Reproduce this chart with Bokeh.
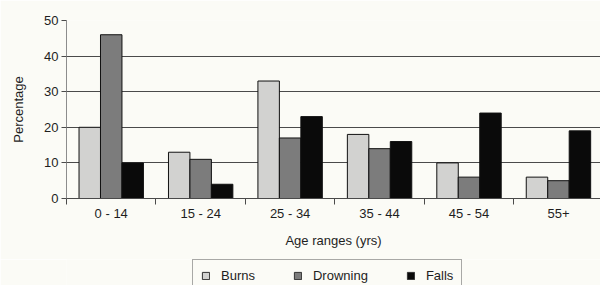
from bokeh.plotting import figure
from bokeh.layouts import column
from bokeh.models import ColumnDataSource, FixedTicker, Legend, LegendItem, Range1d
from bokeh.transform import dodge
from bokeh.embed import file_html
from bokeh.resources import INLINE

categories = ["0 - 14", "15 - 24", "25 - 34", "35 - 44", "45 - 54", "55+"]
burns = [20, 13, 33, 18, 10, 6]
drowning = [46, 11, 17, 14, 6, 5]
falls = [10, 4, 23, 16, 24, 19]
y_ticks = [0, 10, 20, 30, 40, 50]
series = ["Burns", "Drowning", "Falls"]
colors = ["#d2d2d0", "#7c7c7c", "#0a0a0a"]

centers = [i + 0.5 for i in range(len(categories))]
bounds = list(range(len(categories) + 1))

src = ColumnDataSource(dict(x=centers, burns=burns, drowning=drowning, falls=falls))

BG = "#fbfbf6"
LINE = "#4a4a4a"
TXT = "#1e1e1e"
FONT = "Liberation Sans"

fig = figure(width=600, height=259, output_backend="svg", toolbar_location=None,
             x_range=Range1d(0, 5.97), y_range=Range1d(0, 50),
             min_border_left=66, min_border_right=0, min_border_top=20, min_border_bottom=61,
             background_fill_color=BG, border_fill_color=BG, outline_line_color=None)

w = 0.24
fig.vbar(x=dodge("x", -w, range=fig.x_range), top="burns", width=w, source=src,
         fill_color=colors[0], line_color="#111111", line_width=1)
fig.vbar(x="x", top="drowning", width=w, source=src,
         fill_color=colors[1], line_color="#111111", line_width=1)
fig.vbar(x=dodge("x", w, range=fig.x_range), top="falls", width=w, source=src,
         fill_color=colors[2], line_color="#111111", line_width=1)

# x axis
xa = fig.xaxis[0]
xa.ticker = FixedTicker(ticks=centers, minor_ticks=bounds)
xa.major_label_overrides = {c: lab for c, lab in zip(centers, categories)}
xa.major_tick_in = 0
xa.major_tick_out = 0
xa.minor_tick_in = 0
xa.minor_tick_out = 6
xa.minor_tick_line_color = LINE
xa.axis_line_color = LINE
xa.major_label_standoff = 1
xa.axis_label = "Age ranges (yrs)"
xa.axis_label_standoff = 9

# y axis
ya = fig.yaxis[0]
ya.ticker = FixedTicker(ticks=y_ticks)
ya.major_tick_in = 0
ya.major_tick_out = 5
ya.major_tick_line_color = LINE
ya.minor_tick_line_color = None
ya.axis_line_color = "#8c8c8c"
ya.major_label_standoff = 3
ya.axis_label = "Percentage"
ya.axis_label_standoff = 15

for ax in (xa, ya):
    ax.major_label_text_font = FONT
    ax.major_label_text_font_size = "13px"
    ax.major_label_text_color = TXT
    ax.axis_label_text_font = FONT
    ax.axis_label_text_font_size = "13px"
    ax.axis_label_text_font_style = "normal"
    ax.axis_label_text_color = TXT

fig.xgrid.visible = False
fig.ygrid.ticker = FixedTicker(ticks=y_ticks)
fig.ygrid.grid_line_color = LINE
fig.ygrid.grid_line_width = 1

# legend strip below the chart
leg = figure(width=600, height=26, output_backend="svg", toolbar_location=None,
             x_range=Range1d(0, 1), y_range=Range1d(0, 1),
             min_border_left=0, min_border_right=0, min_border_top=0, min_border_bottom=0,
             background_fill_color=BG, border_fill_color=BG, outline_line_color=None)
leg.xaxis.visible = False
leg.yaxis.visible = False
leg.xgrid.visible = False
leg.ygrid.visible = False
offscreen = ColumnDataSource(dict(x=[-5.0], top=[-5.0]))
items = []
for name, col in zip(series, colors):
    r = leg.vbar(x="x", top="top", width=0.1, source=offscreen,
                 fill_color=col, line_color="#333333", line_width=1)
    items.append(LegendItem(label=name, renderers=[r]))

legend = Legend(items=items, orientation="horizontal", location=(126, -7),
                glyph_width=9, glyph_height=9, label_height=14,
                label_standoff=11, spacing=38, padding=8, margin=0,
                label_text_font=FONT, label_text_font_size="13px", label_text_color=TXT,
                border_line_color="#555555", border_line_width=1,
                background_fill_color=BG, background_fill_alpha=1.0)
leg.add_layout(legend, "center")

page = column(fig, leg, spacing=0)
open("out.html", "w").write(file_html(page, INLINE))
